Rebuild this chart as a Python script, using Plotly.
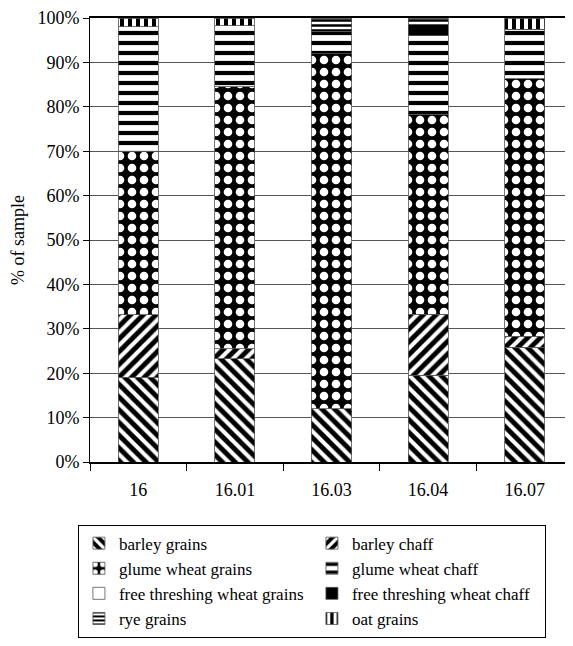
import plotly.graph_objects as go

categories = ["16", "16.01", "16.03", "16.04", "16.07"]

barley_grains = [19.1, 23.3, 12.0, 19.5, 25.8]
barley_chaff = [14.1, 2.2, 0.0, 13.8, 2.5]
glume_wheat_grains = [36.8, 59.0, 80.0, 45.0, 58.0]
glume_wheat_chaff = [28.0, 13.7, 5.0, 17.7, 11.2]
free_threshing_wheat_grains = [0.0, 0.0, 0.0, 0.0, 0.0]
free_threshing_wheat_chaff = [0.0, 0.0, 0.0, 2.5, 0.0]
rye_grains = [0.0, 0.0, 3.0, 1.5, 0.0]
oat_grains = [2.0, 1.8, 0.0, 0.0, 2.5]

y_tick_values = [0, 10, 20, 30, 40, 50, 60, 70, 80, 90, 100]
y_tick_labels = [f"{v}%" for v in y_tick_values]

series = [
    ("barley grains", barley_grains, "black", dict(shape="\\", fgcolor="white", bgcolor="black", size=9, solidity=0.45, fgopacity=1)),
    ("barley chaff", barley_chaff, "black", dict(shape="/", fgcolor="white", bgcolor="black", size=9, solidity=0.45, fgopacity=1)),
    ("glume wheat grains", glume_wheat_grains, "black", dict(shape=".", fgcolor="white", bgcolor="black", size=12, solidity=0.4, fgopacity=1)),
    ("glume wheat chaff", glume_wheat_chaff, "white", dict(shape="-", fgcolor="black", bgcolor="white", size=10, solidity=0.42, fgopacity=1)),
    ("free threshing wheat grains", free_threshing_wheat_grains, "white", dict(shape="")),
    ("free threshing wheat chaff", free_threshing_wheat_chaff, "black", dict(shape="")),
    ("rye grains", rye_grains, "white", dict(shape="-", fgcolor="black", bgcolor="white", size=5, solidity=0.5, fgopacity=1)),
    ("oat grains", oat_grains, "black", dict(shape="|", fgcolor="white", bgcolor="black", size=8, solidity=0.5, fgopacity=1)),
]

FONT = "Liberation Serif, Times New Roman, serif"

fig = go.Figure()
for name, vals, color, pat in series:
    fig.add_trace(go.Bar(
        name=name, x=categories, y=vals,
        marker=dict(color=color, pattern=pat, line=dict(color="#555", width=0.8)),
    ))

fig.update_layout(
    barmode="stack",
    barnorm="percent",
    bargap=0.585,
    width=565, height=638,
    margin=dict(l=82, r=0, t=8, b=184),
    paper_bgcolor="white", plot_bgcolor="white",
    font=dict(family=FONT, size=18, color="black"),
    showlegend=True,
    legend=dict(
        orientation="h",
        x=-0.025, xanchor="left",
        y=-0.141, yanchor="top",
        entrywidth=188, entrywidthmode="pixels",
        bordercolor="black", borderwidth=1,
        font=dict(family=FONT, size=17, color="black"),
        traceorder="normal",
    ),
)

fig.update_xaxes(
    type="category",
    showline=True, linecolor="black", linewidth=1.5, mirror=True,
    ticks="outside", ticklen=7, tickcolor="black", tickson="boundaries",
    ticklabelstandoff=11,
    showgrid=False,
    tickfont=dict(family=FONT, size=18),
)
fig.update_yaxes(
    range=[0, 100],
    tickmode="array",
    tickvals=y_tick_values,
    ticktext=y_tick_labels,
    ticklabeloverflow="allow",
    showline=True, linecolor="black", linewidth=1,
    ticks="outside", ticklen=6, tickcolor="black",
    showgrid=True, gridcolor="#555", gridwidth=1,
    zeroline=False,
    title=dict(text="% of sample", standoff=11, font=dict(family=FONT, size=18)),
    tickfont=dict(family=FONT, size=18),
)

fig.write_html("out.html")
